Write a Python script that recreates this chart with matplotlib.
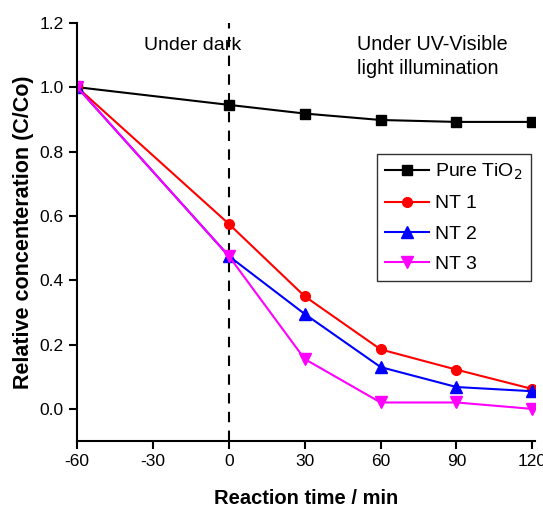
import matplotlib
matplotlib.use("Agg")
import matplotlib.pyplot as plt

plt.rcParams["font.family"] = ["Liberation Sans", "DejaVu Sans"]
plt.rcParams["axes.unicode_minus"] = False

time_min = [-60, 0, 30, 60, 90, 120]
pure_tio2 = [1.0, 0.945, 0.918, 0.898, 0.892, 0.892]
nt1 = [1.0, 0.575, 0.35, 0.185, 0.122, 0.062]
nt2 = [1.0, 0.475, 0.295, 0.13, 0.068, 0.055]
nt3 = [1.0, 0.475, 0.155, 0.02, 0.02, 0.0]

x_ticks = [-60, -30, 0, 30, 60, 90, 120]
y_ticks = [0.0, 0.2, 0.4, 0.6, 0.8, 1.0, 1.2]

fig = plt.figure(figsize=(5.43, 5.07), dpi=100)
ax = fig.add_axes([0.142, 0.130, 0.843, 0.825])

ax.plot(time_min, pure_tio2, color="black", marker="s", markersize=7, lw=1.5, label="Pure TiO$_2$")
ax.plot(time_min, nt1, color="red", marker="o", markersize=7, lw=1.5, label="NT 1")
ax.plot(time_min, nt2, color="blue", marker="^", markersize=8, lw=1.5, label="NT 2")
ax.plot(time_min, nt3, color="magenta", marker="v", markersize=8, lw=1.5, label="NT 3")

ax.axvline(0, color="black", ls=(0, (5, 4)), lw=1.5, zorder=0)

ax.set_xlim(-60, 121)
ax.set_ylim(-0.1, 1.2)
ax.set_xticks(x_ticks)
ax.set_yticks(y_ticks)
ax.set_yticklabels([f"{v:.1f}" for v in y_ticks])
ax.tick_params(labelsize=12.5, width=1.5, length=6, direction="out")

for s in ["top", "right"]:
    ax.spines[s].set_visible(False)
for s in ["left", "bottom"]:
    ax.spines[s].set_linewidth(1.5)
ax.spines["left"].set_bounds(-0.1, 1.2)

ax.set_xlabel("Reaction time / min", fontsize=14.5, fontweight="bold", labelpad=14)
ax.set_ylabel("Relative concenteration (C/Co)", fontsize=15.5, fontweight="bold", labelpad=4)

ax.text(-14.5, 1.13, "Under dark", fontsize=14, ha="center", va="center")
ax.text(50.5, 1.095, "Under UV-Visible\nlight illumination", fontsize=14.2, ha="left", va="center",
        linespacing=1.35)

leg = ax.legend(loc="upper left", bbox_to_anchor=(0.655, 0.686), fontsize=14,
                frameon=True, fancybox=False, edgecolor="black", handlelength=2.3,
                borderpad=0.4, labelspacing=0.65, handletextpad=0.3, borderaxespad=0)
leg.get_frame().set_linewidth(1.0)

fig.savefig("out.png", dpi=100)
